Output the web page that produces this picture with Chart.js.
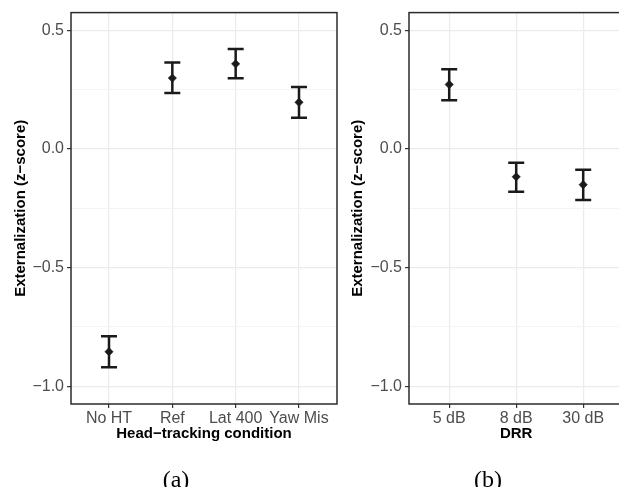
<!DOCTYPE html>
<html>
<head>
<meta charset="utf-8">
<script src="https://cdn.jsdelivr.net/npm/chart.js@4.4.0/dist/chart.umd.min.js"></script>
<style>
  html, body { margin: 0; padding: 0; width: 619px; height: 487px; overflow: hidden; background: #fff; }
  canvas { position: absolute; top: 0; }
  .cap { position: absolute; font-family: 'Liberation Serif', serif; font-size: 24px; line-height: 1; transform: translate(-50%, -50%); color: #000; }
</style>
</head>
<body>
<canvas id="left" width="345" height="487" style="left:0"></canvas>
<canvas id="right" width="290" height="487" style="left:345px"></canvas>
<div class="cap" style="left:176px; top:479px">(a)</div>
<div class="cap" style="left:488px; top:479px">(b)</div>
<script>
// head-tracking condition (panel a)
const condLabels = ['No HT', 'Ref', 'Lat 400', 'Yaw Mis'];
const condMean = [-0.855, 0.298, 0.358, 0.196];
const condLow = [-0.92, 0.235, 0.297, 0.131];
const condHigh = [-0.79, 0.364, 0.421, 0.261];

// DRR (panel b)
const drrLabels = ['5 dB', '8 dB', '30 dB'];
const drrMean = [0.271, -0.118, -0.151];
const drrLow = [0.205, -0.181, -0.216];
const drrHigh = [0.335, -0.059, -0.088];

// y axis breaks
const yMajor = [-1.0, -0.5, 0.0, 0.5];
const yMinor = [-0.75, -0.25, 0.25];

const INK = '#1a1a1a';

const errorBars = {
  id: 'errorBars',
  beforeDatasetsDraw(chart) {
    const { ctx, scales: { x, y } } = chart;
    const eb = chart.options.plugins.errorBars;
    ctx.save();
    ctx.strokeStyle = INK;
    ctx.lineWidth = 2.5;
    ctx.lineCap = 'butt';
    eb.low.forEach((lo, i) => {
      const px = x.getPixelForValue(i);
      const y0 = y.getPixelForValue(lo);
      const y1 = y.getPixelForValue(eb.high[i]);
      ctx.beginPath();
      ctx.moveTo(px, y0); ctx.lineTo(px, y1);
      ctx.moveTo(px - 8, y0); ctx.lineTo(px + 8, y0);
      ctx.moveTo(px - 8, y1); ctx.lineTo(px + 8, y1);
      ctx.stroke();
    });
    ctx.restore();
  }
};

const panelBorder = {
  id: 'panelBorder',
  afterDraw(chart) {
    const { ctx, chartArea: a } = chart;
    ctx.save();
    ctx.strokeStyle = '#2b2b2b';
    ctx.lineWidth = 1.5;
    ctx.strokeRect(a.left, a.top, a.right - a.left, a.bottom - a.top);
    ctx.restore();
  }
};

const fmt = v => v.toFixed(1).replace('-', '\u2212');

function makeChart(id, labels, mean, low, high, xTitle, yAxisWidth, titlePad, pad) {
  new Chart(document.getElementById(id), {
    type: 'scatter',
    data: {
      datasets: [{
        data: mean.map((m, i) => ({ x: i, y: m })),
        pointStyle: 'rectRot',
        pointRadius: 4.2,
        backgroundColor: INK,
        borderColor: INK,
        borderWidth: 0.5
      }]
    },
    options: {
      responsive: false,
      animation: false,
      layout: { padding: pad },
      plugins: {
        legend: { display: false },
        tooltip: { enabled: false },
        errorBars: { low, high }
      },
      scales: {
        x: {
          type: 'linear',
          min: -0.6,
          max: labels.length - 0.4,
          afterBuildTicks: s => { s.ticks = labels.map((l, i) => ({ value: i })); },
          afterFit: s => { s.height = 40; },
          border: { display: false },
          grid: { color: '#ebebeb', lineWidth: 1.2, tickColor: '#333', tickLength: 4 },
          ticks: {
            autoSkip: false, maxRotation: 0, padding: 1,
            color: '#4d4d4d', font: { family: 'Liberation Sans', size: 16 },
            callback: v => labels[v]
          },
          title: {
            display: true, text: xTitle, color: '#000',
            font: { family: 'Liberation Sans', size: 15, weight: 'bold' },
            padding: { top: 0, bottom: 1 }
          }
        },
        y: {
          min: -1.075,
          max: 0.574,
          afterBuildTicks: s => {
            s.ticks = yMajor.concat(yMinor).sort((a, b) => a - b).map(v => ({ value: v }));
          },
          afterFit: s => { s.width = yAxisWidth; },
          border: { display: false },
          grid: {
            color: c => yMajor.includes(c.tick.value) ? '#ebebeb' : '#f3f3f3',
            lineWidth: c => yMajor.includes(c.tick.value) ? 1.2 : 0.9,
            tickColor: c => yMajor.includes(c.tick.value) ? '#333' : 'rgba(0,0,0,0)',
            tickLength: 4
          },
          ticks: {
            padding: 3,
            color: '#4d4d4d', font: { family: 'Liberation Sans', size: 16 },
            callback: v => yMajor.includes(v) ? fmt(v) : ''
          },
          title: {
            display: true, text: 'Externalization (z\u2212score)', color: '#000',
            font: { family: 'Liberation Sans', size: 15, weight: 'bold' },
            padding: { top: titlePad, bottom: 0 }
          }
        }
      }
    },
    plugins: [errorBars, panelBorder]
  });
}

makeChart('left', condLabels, condMean, condLow, condHigh, 'Head\u2212tracking condition', 71, 12,
  { left: 0, top: 9, right: 8, bottom: 43 });
makeChart('right', drrLabels, drrMean, drrLow, drrHigh, 'DRR', 64, 4,
  { left: 0, top: 10, right: 11.6, bottom: 43 });
</script>
</body>
</html>
